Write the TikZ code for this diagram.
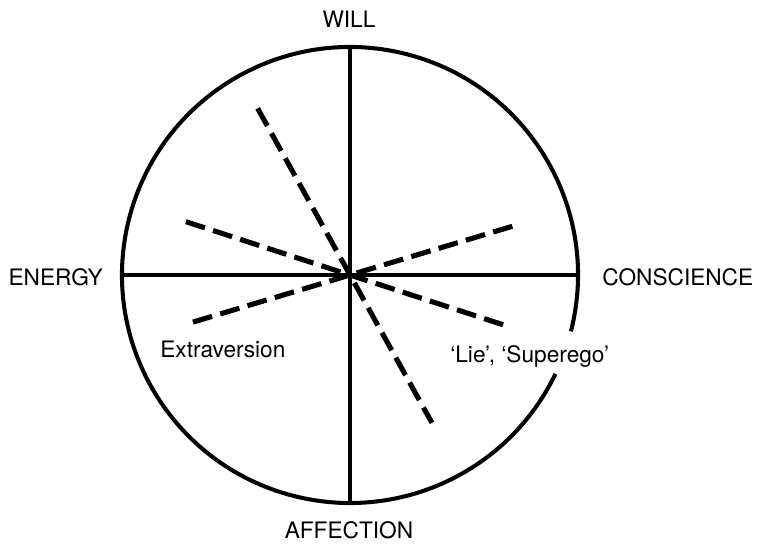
\documentclass[tikz,border=0pt]{standalone}
\usepackage{fontspec}
\setmainfont{TeX Gyre Heros}
\begin{document}
\begin{tikzpicture}[rim/.style={line width=2.3pt}, axis/.style={line width=1.8pt}, factor/.style={line width=2.9pt, dash pattern=on 0.4cm off 0.17cm}, lbl/.style={inner sep=0pt, font=\fontsize{12.9}{15}\selectfont}]
\useasboundingbox (-7.0,-5.4) rectangle (8.16,5.5);
% circle with a gap for the right-hand label
\draw[rim] (-14.3:4.56) arc[start angle=-14.3, end angle=334.3, radius=4.56];
\coordinate (o) at (0,0);
\coordinate (top) at (90:4.56);
\coordinate (bottom) at (270:4.56);
\coordinate (left) at (180:4.56);
\coordinate (right) at (0:4.56);
\draw[axis] (top) -- (bottom);
\draw[axis] (left) -- (right);
% factor lines
\coordinate (f1a) at (119:3.81);
\coordinate (f1b) at (-61:3.38);
\coordinate (f2a) at (162:3.45);
\coordinate (f2b) at (-18:3.33);
\coordinate (f3a) at (196.7:3.28);
\coordinate (f3b) at (16.7:3.49);
\draw[factor] (f1a) -- (o) -- (f1b);
\draw[factor] (f2a) -- (o) -- (f2b);
\draw[factor] (f3a) -- (o) -- (f3b);
% labels
\node[lbl, anchor=base] (will) at (-0.02,4.96) {WILL};
\node[lbl, anchor=base] (affection) at (-0.02,-5.26) {AFFECTION};
\node[lbl, anchor=base west] (conscience) at (5.04,-0.2) {CONSCIENCE};
\node[lbl, anchor=base east] (energy) at (-4.94,-0.2) {ENERGY};
\node[lbl, anchor=base west] (extra) at (-3.8,-1.64) {Extraversion};
\node[lbl, anchor=base west] (lie) at (2.0,-1.74) {‘Lie’, ‘Superego’};
\end{tikzpicture}
\end{document}
